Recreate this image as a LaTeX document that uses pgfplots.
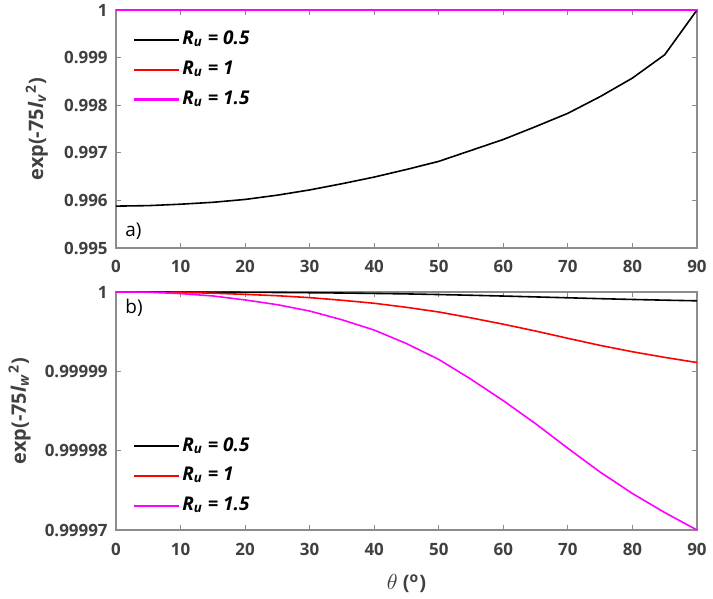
\documentclass[border=0pt]{standalone}
\usepackage{fontspec}
\setmainfont{Open Sans}
\usepackage{pgfplots}
\usepackage{pgfplotstable}
\pgfplotsset{compat=1.18}
\definecolor{axgray}{RGB}{140,140,140}
\definecolor{lblgray}{RGB}{64,64,64}
\definecolor{mymag}{RGB}{255,0,255}

% Top panel: exp(-75 l_v^2) versus theta
\pgfplotstableread{
t y
0 0.99588
5 0.99589
10 0.99592
15 0.99596
20 0.99602
25 0.99611
30 0.99622
35 0.99635
40 0.99649
45 0.99665
50 0.99682
55 0.99705
60 0.99728
65 0.99755
70 0.99783
75 0.99818
80 0.99857
85 0.99906
90 1.00000
}\topblack
\pgfplotstableread{
t y
0 1
10 1
20 1
30 1
40 1
50 1
60 1
70 1
80 1
90 1
}\topflat

% Bottom panel: values stored as (exp(-75 l_w^2) - 1) x 1e5,
% because the whole range (0.99997 .. 1) is below the FPU resolution.
\pgfplotstableread{
t d
0 0
5 -0.0001
10 -0.0008
15 -0.002
20 -0.004
25 -0.006
30 -0.009
35 -0.013
40 -0.018
45 -0.024
50 -0.032
55 -0.041
60 -0.051
65 -0.062
70 -0.073
75 -0.084
80 -0.094
85 -0.103
90 -0.111
}\botblack
\pgfplotstableread{
t d
0 0
5 -0.001
10 -0.006
15 -0.015
20 -0.030
25 -0.047
30 -0.071
35 -0.104
40 -0.142
45 -0.193
50 -0.252
55 -0.326
60 -0.406
65 -0.492
70 -0.584
75 -0.673
80 -0.753
85 -0.824
90 -0.889
}\botred
\pgfplotstableread{
t d
0 0
5 -0.003
10 -0.02
15 -0.05
20 -0.10
25 -0.16
30 -0.24
35 -0.35
40 -0.48
45 -0.65
50 -0.85
55 -1.10
60 -1.37
65 -1.66
70 -1.97
75 -2.27
80 -2.54
85 -2.78
90 -3.00
}\botmag

\pgfplotsset{
  legend image code/.code={\draw[#1, line width=1.1pt] (0bp,0bp) -- (22.5bp,0bp);},
}
\pgfplotsset{
  myax/.style={
    scale only axis, width=290.5bp, height=119bp,
    xmin=0, xmax=90, xtick={0,10,...,90},
    axis line style={draw=axgray, line width=0.6pt},
    every tick/.style={draw=axgray, line width=0.6pt},
    tick align=inside, major tick length=2.5bp,
    tick label style={font=\fontsize{8.5}{10}\selectfont\bfseries, text=lblgray},
    xticklabel style={anchor=base, yshift=-12.5bp},
    yticklabel style={anchor=east, inner sep=0pt, xshift=-4bp},
    /pgf/number format/assume math mode=true,
    clip=false,
    legend cell align=left,
    legend style={draw=none, fill=none, inner sep=0pt,
      font=\fontsize{9.5}{11}\selectfont\bfseries\itshape,
      nodes={inner sep=1bp, text height=8bp, text depth=3bp},
      row sep=1.9bp},
    label style={font=\fontsize{10}{12}\selectfont\bfseries, text=lblgray},
  }
}

\begin{document}
\begin{tikzpicture}
\useasboundingbox (-58bp,-34.5bp) rectangle (298.5bp,265bp);
% ---------- top panel ----------
\begin{axis}[myax, at={(0,141bp)}, anchor=south west,
  ymin=0.995, ymax=1,
  ytick={0.995,0.996,0.997,0.998,0.999,1},
  yticklabels={0.995,0.996,0.997,0.998,0.999,1},
  ylabel={exp(-75\textit{l}\textsubscript{\textit{v}}\textsuperscript{2})},
  ylabel style={at={(axis description cs:-0.1256,0.5)}, anchor=base},
  legend style={at={(rel axis cs:0.029,0.931)}, anchor=north west},
]
\addplot[draw=black, line width=0.8pt] table[x=t,y=y]{\topblack};
\addlegendentry{\textit{R}\textsubscript{\textit{u}} = 0.5}
\addplot[draw=red, line width=0.8pt] table[x=t,y=y]{\topflat};
\addlegendentry{\textit{R}\textsubscript{\textit{u}} = 1}
\addplot[draw=mymag, line width=0.8pt] table[x=t,y=y]{\topflat};
\addlegendentry{\textit{R}\textsubscript{\textit{u}} = 1.5}
\node[anchor=west, font=\fontsize{9.5}{11}\selectfont, inner sep=0pt] at (rel axis cs:0.0155,0.071) {a)};
\end{axis}
% ---------- bottom panel ----------
\begin{axis}[myax, at={(0,0)}, anchor=south west,
  ymin=-3, ymax=0,
  ytick={-3,-2,-1,0},
  yticklabels={0.99997,0.99998,0.99999,1},
  ylabel={exp(-75\textit{l}\textsubscript{\textit{w}}\textsuperscript{2})},
  ylabel style={at={(axis description cs:-0.155,0.5)}, anchor=base},
  xlabel={{\fontsize{11}{12}\selectfont$\theta$} (\textsuperscript{o})},
  xlabel style={at={(axis description cs:0.5,-0.252)}, anchor=base},
  legend style={at={(rel axis cs:0.029,0.409)}, anchor=north west},
]
\addplot[draw=black, line width=0.8pt] table[x=t,y=d]{\botblack};
\addlegendentry{\textit{R}\textsubscript{\textit{u}} = 0.5}
\addplot[draw=red, line width=0.8pt] table[x=t,y=d]{\botred};
\addlegendentry{\textit{R}\textsubscript{\textit{u}} = 1}
\addplot[draw=mymag, line width=0.8pt] table[x=t,y=d]{\botmag};
\addlegendentry{\textit{R}\textsubscript{\textit{u}} = 1.5}
\node[anchor=west, font=\fontsize{9.5}{11}\selectfont, inner sep=0pt] at (rel axis cs:0.0155,0.933) {b)};
\end{axis}
\end{tikzpicture}
\end{document}
